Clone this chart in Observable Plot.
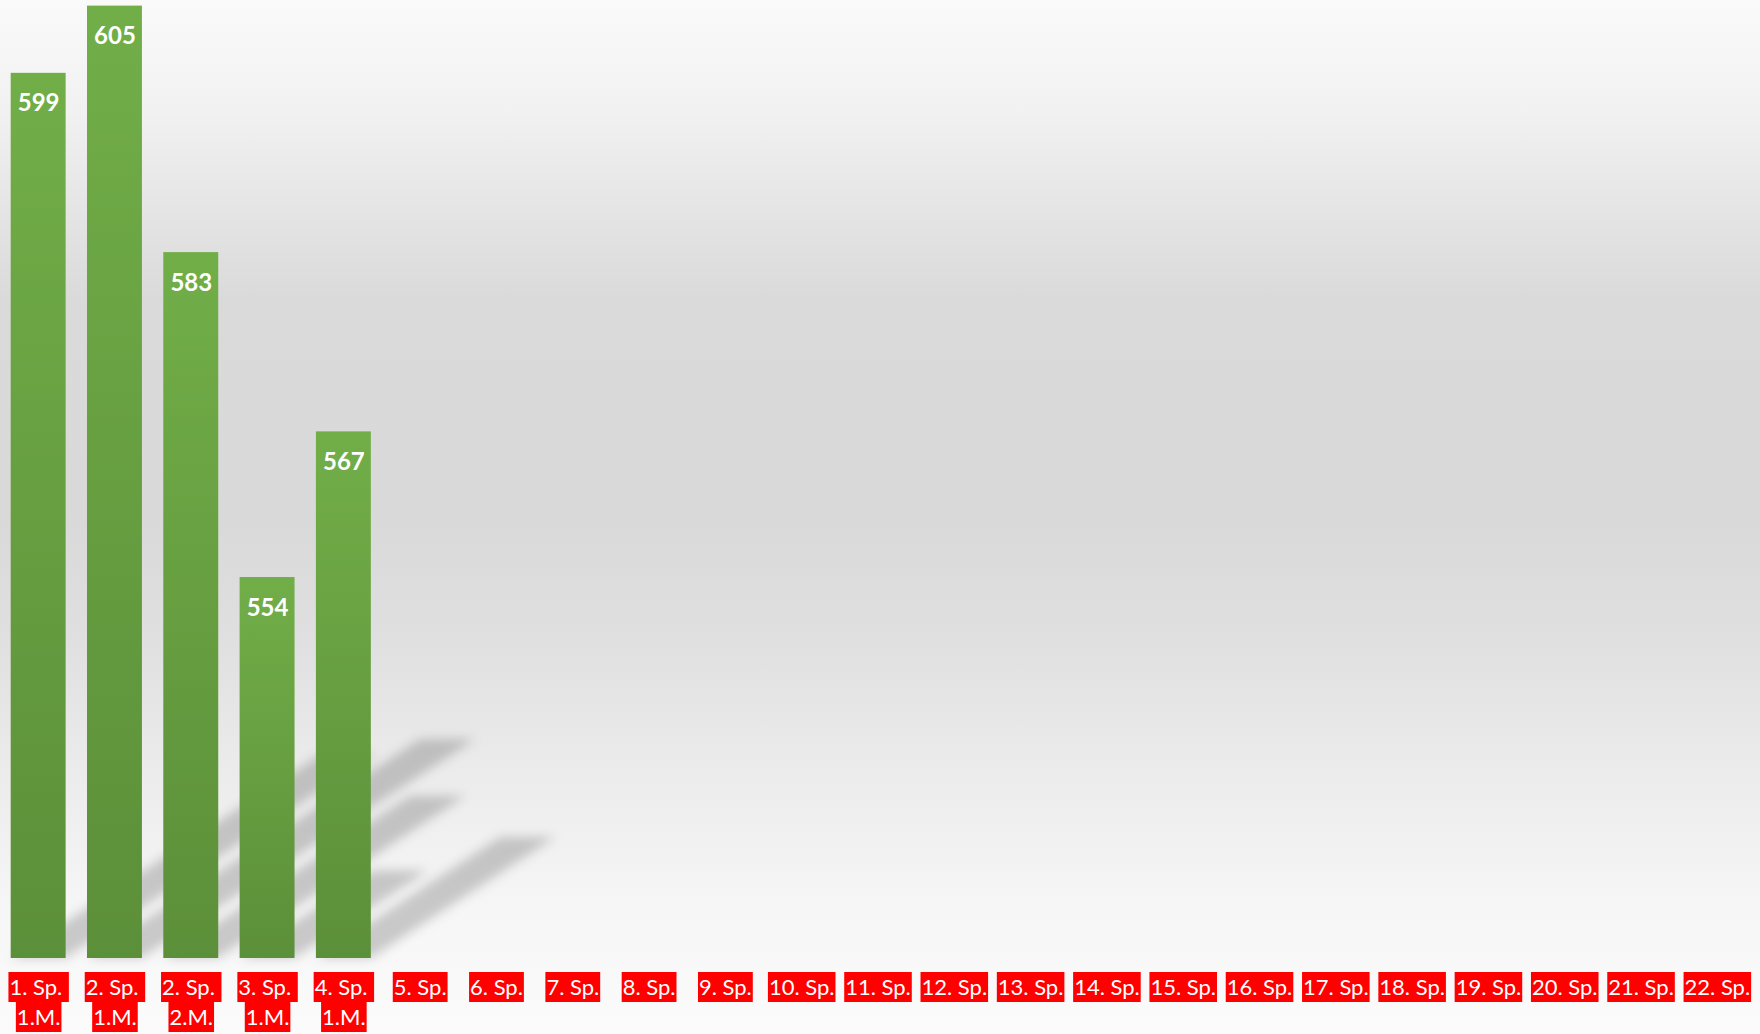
<!DOCTYPE html>
<html><head><meta charset="utf-8">
<script src="https://cdn.jsdelivr.net/npm/d3@7"></script>
<script src="https://cdn.jsdelivr.net/npm/@observablehq/plot@0.6"></script>
<style>
html,body{margin:0;padding:0;background:#fff;}
#chart svg{display:block;}
</style></head><body><div id="chart"></div>
<script>
const categories = [
  "1. Sp.\n1.M.", "2. Sp.\n1.M.", "2. Sp.\n2.M.", "3. Sp.\n1.M.", "4. Sp.\n1.M.",
  "5. Sp.", "6. Sp.", "7. Sp.", "8. Sp.", "9. Sp.", "10. Sp.", "11. Sp.", "12. Sp.",
  "13. Sp.", "14. Sp.", "15. Sp.", "16. Sp.", "17. Sp.", "18. Sp.", "19. Sp.",
  "20. Sp.", "21. Sp.", "22. Sp."
];
const values = [599, 605, 583, 554, 567];
const yMin = 520;
const yMax = 605.5;

const barData = values.map((v, i) => ({cat: categories[i], value: v}));
const labelData = categories.map(c => {
  const [a, b] = c.split("\n");
  return {cat: c, line1: b ? a + " " : a, line2: b || null};
});
const line2Data = labelData.filter(d => d.line2);

const W = 1760, H = 1034, MB = 76;
const plot = Plot.plot({
  width: W, height: H,
  marginTop: 0, marginBottom: MB, marginLeft: 0, marginRight: 5,
  style: {
    background: "linear-gradient(to bottom, #fafafa 0%, #f1f1f1 11%, #e4e4e4 21%, #dadada 29%, #d9d9d9 50%, #dfdfdf 61%, #ebebeb 74%, #f6f6f6 88%, #fbfbfb 100%)",
    fontFamily: "Lato, 'Open Sans', sans-serif",
    overflow: "visible"
  },
  x: {type: "band", domain: categories, paddingInner: 0.28, paddingOuter: 0.14, round: false, axis: null},
  y: {domain: [yMin, yMax], axis: null},
  marks: [
    Plot.barY(barData, {x: "cat", y1: yMin, y2: "value", fill: "black", fillOpacity: 0.19, ariaDescription: "shadow"}),
    Plot.barY(barData, {x: "cat", y1: yMin, y2: "value", fill: "url(#barGrad)", ariaDescription: "bars"}),
    Plot.text(barData, {x: "cat", y: "value", text: d => String(d.value), lineAnchor: "bottom", dy: 38,
      fill: "white", fontWeight: "bold", fontSize: 24, ariaDescription: "values"}),
    Plot.text(labelData, {x: "cat", text: "line1", frameAnchor: "bottom", lineAnchor: "bottom", dy: 36,
      fill: "white", fontSize: 22, ariaDescription: "label-line1"}),
    Plot.text(line2Data, {x: "cat", text: "line2", frameAnchor: "bottom", lineAnchor: "bottom", dy: 66,
      fill: "white", fontSize: 22, ariaDescription: "label-line2"})
  ]
});
document.getElementById("chart").append(plot);
const svg = plot.tagName.toLowerCase() === "svg" ? plot : plot.querySelector("svg");
const ns = "http://www.w3.org/2000/svg";
const defs = document.createElementNS(ns, "defs");
defs.innerHTML = '<linearGradient id="barGrad" x1="0" y1="0" x2="0" y2="1">' +
  '<stop offset="0" stop-color="#71ae48"/><stop offset="1" stop-color="#5c8f39"/></linearGradient>' +
  '<filter id="shBlur" x="-50%" y="-50%" width="200%" height="200%"><feGaussianBlur stdDeviation="5.5"/></filter>';
svg.insertBefore(defs, svg.firstChild);

function findGroup(desc, type, idx) {
  return svg.querySelector(`g[aria-description="${desc}"]`) ||
         svg.querySelectorAll(`g[aria-label="${type}"]`)[idx];
}

const base = plot.scale("y").apply(yMin);
// perspective shadow
const sh = findGroup("shadow", "bar", 0);
if (sh) {
  const wrap = document.createElementNS(ns, "g");
  wrap.setAttribute("filter", "url(#shBlur)");
  sh.parentNode.insertBefore(wrap, sh);
  wrap.appendChild(sh);
  const k = 0.35, s = 0.23;
  const prev = sh.getAttribute("transform") || "";
  sh.setAttribute("transform", `matrix(1,0,${-k},${s},${k * base},${(1 - s) * base}) ${prev}`);
}

// red label boxes
const svgRect = svg.getBoundingClientRect();
for (const [desc, idx, off] of [["label-line1", 1, 36], ["label-line2", 2, 66]]) {
  const g = findGroup(desc, "text", idx);
  if (!g) continue;
  const boxes = document.createElementNS(ns, "g");
  g.parentNode.insertBefore(boxes, g);
  g.querySelectorAll("text").forEach(t => {
    t.style.whiteSpace = "pre";
    const r = t.getBoundingClientRect();
    const rect = document.createElementNS(ns, "rect");
    rect.setAttribute("x", r.left - svgRect.left - 1);
    rect.setAttribute("width", r.width + 2);
    rect.setAttribute("y", base + off - 22);
    rect.setAttribute("height", 30);
    rect.setAttribute("fill", "#ff0000");
    boxes.appendChild(rect);
  });
}
</script></body></html>
